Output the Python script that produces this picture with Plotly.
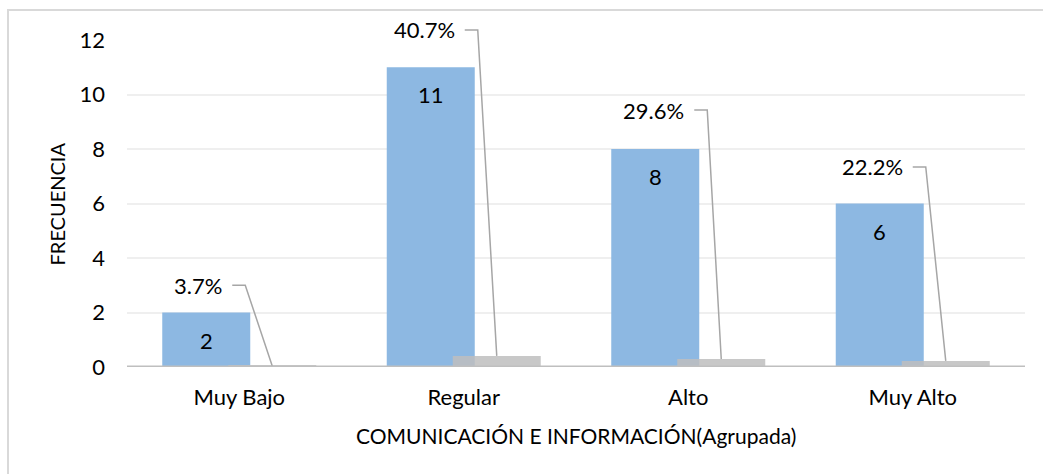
import plotly.graph_objects as go

categories = ["Muy Bajo", "Regular", "Alto", "Muy Alto"]
frequency = [2, 11, 8, 6]
proportion = [0.037, 0.407, 0.296, 0.222]
y_ticks = [0, 2, 4, 6, 8, 10, 12]
label_lift = [1.0, 1.37, 1.43, 1.34]
label_dx_px = [27, 19, 14, 20]

FONT = "Lato"
FS = 22
BLUE = "#8DB8E2"
GREY = "#BFBFBF"
Y_MAX = 12

xs = list(range(len(categories)))
BAR_W = 0.392
SHIFT = 0.147
CAT_PX = 224.5  # pixels per category unit

fig = go.Figure()
fig.add_trace(go.Bar(
    x=[i - SHIFT for i in xs], y=frequency, width=BAR_W,
    marker=dict(color=BLUE, line=dict(width=0)), showlegend=False,
    hoverinfo="y"))
fig.add_trace(go.Bar(
    x=[i + SHIFT for i in xs], y=proportion, width=BAR_W,
    marker=dict(color=GREY, line=dict(width=0)), opacity=0.85,
    showlegend=False, hoverinfo="y"))

annotations = []
shapes = []
# value labels inside blue bars
for i, v in zip(xs, frequency):
    annotations.append(dict(x=i - SHIFT, y=v, text=str(v), showarrow=False,
                            xanchor="center", yanchor="top", yshift=-12,
                            font=dict(family=FONT, size=FS, color="#000000")))
# percentage labels with leader lines
for i, p, v, lift, dx in zip(xs, proportion, frequency, label_lift, label_dx_px):
    ly = (v + lift) / Y_MAX
    corner_x = i + SHIFT - dx / CAT_PX
    text_right = corner_x - 21 / CAT_PX
    start_x = corner_x - 13 / CAT_PX
    annotations.append(dict(x=text_right, y=ly, xref="x", yref="paper",
                            text=f"{p*100:.1f}%", showarrow=False,
                            xanchor="right", yanchor="middle",
                            font=dict(family=FONT, size=FS, color="#000000")))
    shapes.append(dict(type="path", xref="x", yref="paper",
                       path=f"M {start_x} {ly} L {corner_x} {ly} L {i + SHIFT} {p / Y_MAX}",
                       line=dict(color="#A6A6A6", width=1.5), layer="above"))

# axis titles
annotations.append(dict(xref="paper", yref="paper", x=0.5, y=-0.208,
                        text="COMUNICACIÓN E INFORMACIÓN(Agrupada)", showarrow=False,
                        xanchor="center", yanchor="middle",
                        font=dict(family=FONT, size=21, color="#000000")))
annotations.append(dict(xref="paper", yref="paper", x=-0.078, y=0.5,
                        text="FRECUENCIA", showarrow=False, textangle=-90,
                        xanchor="center", yanchor="middle",
                        font=dict(family=FONT, size=20, color="#000000")))

# chart border
shapes.append(dict(type="rect", xref="paper", yref="paper",
                   x0=-0.1325, x1=1.03, y0=-0.5, y1=1.0917,
                   line=dict(color="#D9D9D9", width=2), layer="below"))
# baseline
shapes.append(dict(type="line", xref="paper", yref="y", x0=0, x1=1, y0=0, y1=0,
                   line=dict(color="#BFBFBF", width=3), layer="above"))

fig.update_layout(
    width=1043, height=474,
    margin=dict(l=127, r=18, t=40, b=107),
    paper_bgcolor="white", plot_bgcolor="white",
    barmode="overlay",
    annotations=annotations, shapes=shapes,
    xaxis=dict(range=[-0.5, len(categories) - 0.5], tickvals=xs, ticktext=categories,
               showgrid=False, zeroline=False, showline=False,
               ticks="", ticklabelstandoff=15,
               tickfont=dict(family=FONT, size=FS, color="#000000")),
    yaxis=dict(range=[0, Y_MAX], tickvals=y_ticks, showgrid=True,
               gridcolor="#EFEFEF", gridwidth=1.5, zeroline=False, showline=False,
               ticks="", ticklabelstandoff=21,
               tickfont=dict(family=FONT, size=FS, color="#000000")),
    font=dict(family=FONT, size=FS, color="#000000"),
)

fig.write_html("out.html", config={"displayModeBar": False},
               post_script="document.body.style.margin='0';")
